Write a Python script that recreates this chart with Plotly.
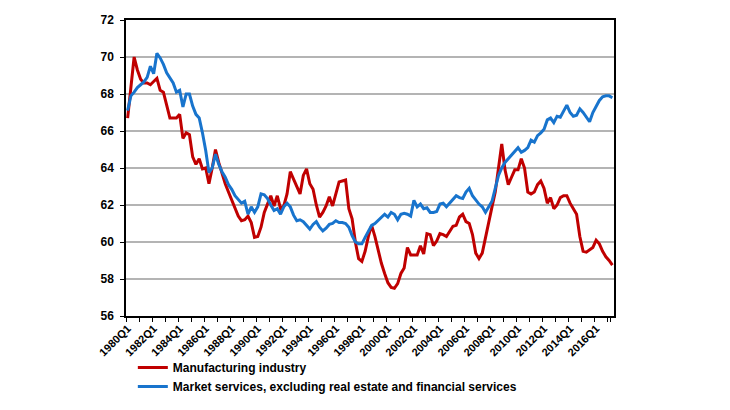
import plotly.graph_objects as go

# quarterly series, 1980Q1 .. 2017Q2
quarters = [f"{y}Q{q}" for y in range(1980, 2018) for q in range(1, 5)][:150]

manufacturing = [
    66.7, 68.3, 70.0, 69.3, 68.8, 68.6, 68.6, 68.5, 68.7, 68.85,
    68.2, 68.1, 67.4, 66.7, 66.7, 66.7, 66.9, 65.6, 65.9, 65.8,
    64.6, 64.2, 64.5, 63.95, 64.0, 63.15, 64.0, 65.0, 64.3, 63.7,
    63.15, 62.7, 62.25, 61.8, 61.4, 61.15, 61.2, 61.4, 61.05, 60.25,
    60.3, 60.8, 61.6, 62.05, 62.5, 61.95, 62.5, 61.8, 61.95, 62.6,
    63.8, 63.4, 62.95, 62.6, 63.6, 63.95, 63.15, 62.85, 62.0, 61.35,
    61.6, 61.95, 62.45, 61.95, 62.6, 63.25, 63.3, 63.35, 61.8, 61.25,
    60.0, 59.1, 58.95, 59.5, 60.3, 60.9, 60.3, 59.5, 58.85, 58.3,
    57.8, 57.55, 57.5, 57.75, 58.3, 58.6, 59.7, 59.3, 59.3, 59.3,
    59.8, 59.35, 60.45, 60.4, 59.8, 60.05, 60.45, 60.4, 60.3, 60.6,
    60.85, 60.9, 61.35, 61.5, 61.1, 61.0, 60.4, 59.4, 59.1, 59.4,
    60.3, 61.2, 61.9, 62.7, 64.0, 65.3, 63.9, 63.1, 63.5, 63.9,
    63.9, 64.5, 64.0, 62.7, 62.6, 62.7, 63.1, 63.3, 62.9, 62.1,
    62.4, 61.8, 62.0, 62.4, 62.5, 62.5, 62.1, 61.8, 61.5, 60.3,
    59.5, 59.45, 59.6, 59.7, 60.1, 59.9, 59.5, 59.2, 59.0, 58.75,
]

market_services = [
    67.1, 67.9, 68.1, 68.35, 68.5, 68.65, 68.9, 69.5, 69.1, 70.2,
    69.95, 69.6, 69.15, 68.9, 68.6, 68.1, 68.2, 67.3, 68.0, 68.0,
    67.35, 66.9, 66.7, 65.9, 64.95, 63.75, 64.0, 64.75, 64.2, 63.8,
    63.5, 63.1, 62.85, 62.5, 62.3, 62.1, 62.2, 61.5, 61.9, 61.6,
    61.9, 62.6, 62.55, 62.35, 62.0, 61.7, 61.8, 61.5, 61.9, 62.1,
    61.9, 61.45, 61.15, 61.2, 61.1, 60.9, 60.7, 60.95, 61.1, 60.8,
    60.6, 60.75, 60.95, 61.0, 61.15, 61.05, 61.05, 61.0, 60.8, 60.35,
    60.0, 59.9, 59.9, 60.25, 60.6, 60.9, 61.0, 61.15, 61.3, 61.5,
    61.35, 61.6, 61.5, 61.2, 61.5, 61.55, 61.5, 61.4, 62.25, 61.9,
    62.05, 61.8, 61.85, 61.6, 61.6, 61.65, 62.05, 62.1, 61.9, 62.1,
    62.35, 62.5, 62.4, 62.35, 62.7, 62.9, 62.5, 62.25, 62.05, 61.9,
    61.6, 61.9, 62.2, 62.9, 63.6, 64.0, 64.3, 64.5, 64.7, 64.95,
    65.1, 64.85, 64.95, 65.1, 65.5, 65.4, 65.75, 65.9, 66.1, 66.6,
    66.7, 66.45, 66.8, 66.75, 67.1, 67.4, 67.0, 66.8, 66.85, 67.2,
    67.0, 66.75, 66.5, 67.0, 67.3, 67.65, 67.85, 67.9, 67.9, 67.8,
]

# ticks every 4 quarters, a label on every other one
tick_vals = quarters[::4]
tick_text = [q if i % 2 == 0 else "" for i, q in enumerate(tick_vals)]

font = "Liberation Sans, Arial, sans-serif"

fig = go.Figure()
fig.add_trace(go.Scatter(x=quarters, y=manufacturing, mode="lines",
                         name="Manufacturing industry",
                         line=dict(color="#C00000", width=3)))
fig.add_trace(go.Scatter(x=quarters, y=market_services, mode="lines",
                         name="Market services, excluding real estate and financial services",
                         line=dict(color="#1874CD", width=3)))

fig.update_layout(
    width=730, height=410,
    margin=dict(l=118, r=124, t=12, b=102),
    paper_bgcolor="white", plot_bgcolor="white",
    font=dict(family=font, size=11, color="black"),
    showlegend=True,
    legend=dict(x=0.014, y=-0.125, xanchor="left", yanchor="top",
                font=dict(family=font, size=12, weight="bold"),
                itemwidth=30, bgcolor="rgba(0,0,0,0)"),
    xaxis=dict(type="category", tickmode="array", tickvals=tick_vals, ticktext=tick_text,
               tickson="boundaries", ticks="outside", ticklen=4, tickcolor="black",
               tickangle=-45, tickfont=dict(family=font, size=11, weight="bold"),
               showgrid=False, showline=True, linecolor="black", linewidth=1.5,
               mirror=True, range=[-0.5, 149.5], automargin=False),
    yaxis=dict(range=[56, 72], dtick=2, ticks="outside", ticklen=4, tickcolor="black",
               tickfont=dict(family=font, size=12, weight="bold"), ticklabelstandoff=4,
               showgrid=True, gridcolor="#b4b4b4", gridwidth=1.5,
               showline=True, linecolor="black", linewidth=1.5, mirror=True,
               zeroline=False, automargin=False),
)

fig.write_html("out.html")
